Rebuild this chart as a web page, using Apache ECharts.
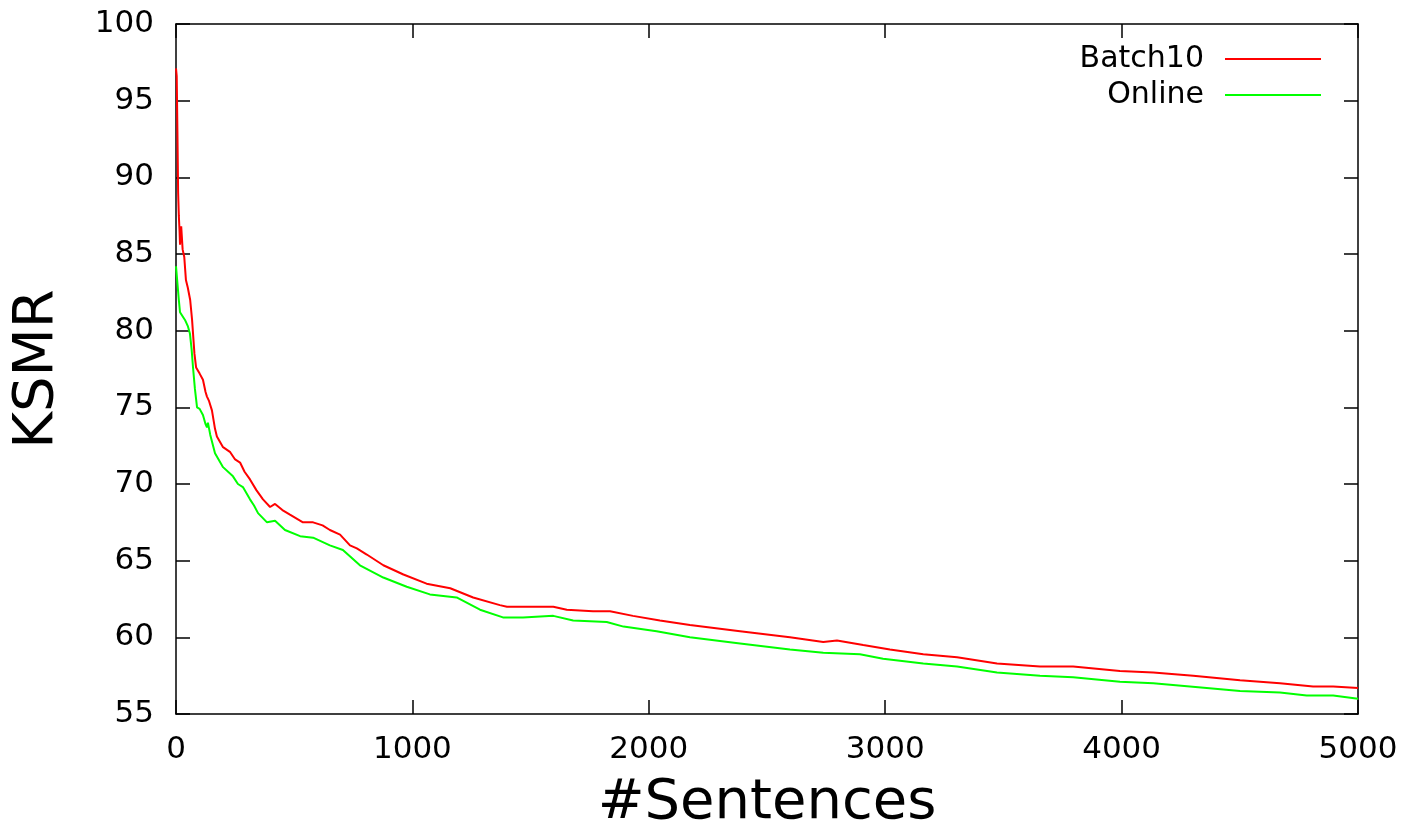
<!DOCTYPE html>
<html>
<head>
<meta charset="utf-8">
<script src="https://cdn.jsdelivr.net/npm/echarts@6/dist/echarts.min.js"></script>
<style>
html,body{margin:0;padding:0;background:#fff;}
#chart{width:1406px;height:828px;}
</style>
</head>
<body>
<div id="chart"></div>
<script>
const seriesNames = ['Batch10', 'Online'];
const xTicks = [0, 1000, 2000, 3000, 4000, 5000];
const yTicks = [55, 60, 65, 70, 75, 80, 85, 90, 95, 100];

const batch10Data = [
  [0,97.1],[3,96.6],[6,93],[9,89],[12,87.5],[15,86.5],[17,85.6],[22,86.8],[28,85.3],[35,84.8],[42,83.3],
  [50,82.8],[60,82.0],[68,80.7],[78,78.5],[85,77.6],[100,77.2],[114,76.8],[125,76.0],[131,75.7],
  [140,75.4],[152,74.8],[165,73.6],[173,73.1],[199,72.4],[228,72.1],[250,71.6],[271,71.4],[290,70.8],
  [313,70.3],[340,69.6],[368,69.0],[398,68.5],[419,68.7],[450,68.3],[482,68.0],[537,67.5],[580,67.5],
  [620,67.3],[651,67.0],[694,66.7],[736,66.0],[765,65.8],[807,65.4],[877,64.7],[962,64.1],[1060,63.5],
  [1160,63.2],[1257,62.6],[1370,62.1],[1400,62.0],[1500,62.0],[1596,62.0],[1653,61.8],[1764,61.7],
  [1836,61.7],[1933,61.4],[2047,61.1],[2174,60.8],[2386,60.4],[2597,60.0],[2738,59.7],[2796,59.8],
  [2907,59.5],[3020,59.2],[3161,58.9],[3304,58.7],[3473,58.3],[3655,58.1],[3795,58.1],[3993,57.8],
  [4134,57.7],[4303,57.5],[4501,57.2],[4670,57.0],[4810,56.8],[4895,56.8],[5000,56.7]
];

const onlineData = [
  [0,84.2],[8,84.2],[12,82],[17,81.2],[38,80.7],[50,80.3],[59,79.8],[66,78.8],[72,77.6],[80,76.2],
  [89,75.0],[100,74.9],[114,74.5],[125,73.9],[131,73.7],[135,74.0],[145,73.2],[165,72.0],[199,71.1],
  [241,70.5],[262,70.0],[283,69.8],[313,69.0],[330,68.6],[347,68.1],[385,67.5],[419,67.6],[461,67.0],
  [525,66.6],[580,66.5],[651,66.0],[706,65.7],[778,64.7],[877,63.9],[976,63.3],[1074,62.8],
  [1187,62.6],[1286,61.8],[1383,61.3],[1468,61.3],[1596,61.4],[1680,61.1],[1822,61.0],[1893,60.7],
  [2033,60.4],[2174,60.0],[2386,59.6],[2597,59.2],[2738,59.0],[2893,58.9],[2991,58.6],[3161,58.3],
  [3304,58.1],[3473,57.7],[3655,57.5],[3795,57.4],[3993,57.1],[4134,57.0],[4360,56.7],[4501,56.5],
  [4670,56.4],[4783,56.2],[4895,56.2],[5000,56.0]
];

const FONT = 'DejaVu Sans';
const chart = echarts.init(document.getElementById('chart'), null, {renderer: 'canvas'});

const tickStyle = () => ({show: true, inside: true, length: 14, lineStyle: {color: '#000', width: 1.5}});
const axLine = () => ({show: true, onZero: false, lineStyle: {color: '#000', width: 1.5}});

chart.setOption({
  animation: false,
  backgroundColor: '#fff',
  grid: {left: 176, right: 48, top: 24, bottom: 114, containLabel: false},
  legend: {
    data: seriesNames.map(n => ({name: n, icon: 'rect'})),
    orient: 'vertical',
    right: 80,
    top: 37,
    align: 'right',
    itemWidth: 96,
    itemHeight: 2,
    itemGap: 2,
    textStyle: {fontFamily: FONT, fontSize: 30, color: '#000', lineHeight: 34, padding: [0, 16, 0, 0]}
  },
  xAxis: [
    {
      type: 'value', min: xTicks[0], max: xTicks[xTicks.length - 1], interval: 1000,
      position: 'bottom',
      axisLine: axLine(), axisTick: tickStyle(), splitLine: {show: false},
      axisLabel: {fontFamily: FONT, fontSize: 31, color: '#000', margin: 20, formatter: v => String(v)}
    },
    {
      type: 'value', min: xTicks[0], max: xTicks[xTicks.length - 1], interval: 1000,
      position: 'top',
      axisLine: axLine(), axisTick: tickStyle(), splitLine: {show: false},
      axisLabel: {show: false}
    }
  ],
  yAxis: [
    {
      type: 'value', min: yTicks[0], max: yTicks[yTicks.length - 1], interval: 5,
      position: 'left',
      axisLine: axLine(), axisTick: tickStyle(), splitLine: {show: false},
      axisLabel: {fontFamily: FONT, fontSize: 31, color: '#000', margin: 22, formatter: v => String(v)}
    },
    {
      type: 'value', min: yTicks[0], max: yTicks[yTicks.length - 1], interval: 5,
      position: 'right',
      axisLine: axLine(), axisTick: tickStyle(), splitLine: {show: false},
      axisLabel: {show: false}
    }
  ],
  graphic: [
    {
      type: 'text', silent: true, x: 767, y: 803,
      style: {text: '#Sentences', fontFamily: FONT, fontSize: 56, fill: '#000', textAlign: 'center', textVerticalAlign: 'middle'}
    },
    {
      type: 'text', silent: true, rotation: Math.PI / 2, x: 37, y: 369,
      style: {text: 'KSMR', fontFamily: FONT, fontSize: 56, fill: '#000', textAlign: 'center', textVerticalAlign: 'middle'}
    }
  ],
  series: [
    {
      name: seriesNames[0], type: 'line', data: batch10Data, showSymbol: false, symbol: 'none',
      lineStyle: {color: '#ff0000', width: 2}, itemStyle: {color: '#ff0000'}, z: 3
    },
    {
      name: seriesNames[1], type: 'line', data: onlineData, showSymbol: false, symbol: 'none',
      lineStyle: {color: '#00ff00', width: 2}, itemStyle: {color: '#00ff00'}, z: 2
    }
  ]
});
</script>
</body>
</html>
